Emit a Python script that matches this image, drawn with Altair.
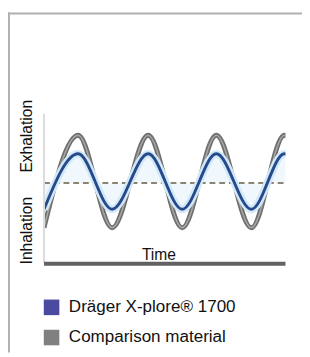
import altair as alt
import pandas as pd

# ---- data ----
time_pts = [0, 35, 70, 107, 142, 177, 213, 247, 282]
comparison_vals = [36, 131, 36, 131, 36, 131, 36, 131, 36]
drager_vals = [55, 112, 55, 112, 55, 112, 55, 112, 55]
neutral_level = 82
series_names = ["Dräger X-plore® 1700", "Comparison material"]
legend_colors = ["#4b49a0", "#808080"]

df = pd.DataFrame({"t": time_pts, "gray": comparison_vals, "blue": drager_vals,
                   "mid": [neutral_level] * len(time_pts)})
leg = pd.DataFrame({"series": series_names})
mid_df = pd.DataFrame({"t0": [0], "t1": [248], "mid": [neutral_level]})

xs = alt.Scale(domain=[0, 248], nice=False, zero=False)
ys = alt.Scale(domain=[0, 153], nice=False, zero=False)
X = alt.X("t:Q", scale=xs, axis=None)

base = alt.Chart(df)

area = base.mark_area(color="#f1f8fd", interpolate="monotone", clip=True).encode(
    x=X, y=alt.Y("blue:Q", scale=ys, axis=None), y2="mid:Q")

gray_outer = base.mark_line(color="#6f6f6f", strokeWidth=5, interpolate="monotone", clip=True).encode(
    x=X, y=alt.Y("gray:Q", scale=ys, axis=None))
gray_inner = base.mark_line(color="#a8a8a8", strokeWidth=1.5, interpolate="monotone", clip=True).encode(
    x=X, y=alt.Y("gray:Q", scale=ys, axis=None))

dash = alt.Chart(mid_df).mark_rule(color="#8a8472", strokeWidth=2, strokeDash=[6, 4]).encode(
    x=alt.X("t0:Q", scale=xs, axis=None), x2="t1:Q", y=alt.Y("mid:Q", scale=ys, axis=None))

blue_halo = base.mark_line(color="#d3e9f8", strokeWidth=8, interpolate="monotone", clip=True).encode(
    x=X, y=alt.Y("blue:Q", scale=ys, axis=None))
blue_line = base.mark_line(color="#264a8c", strokeWidth=3, interpolate="monotone", clip=True).encode(
    x=X, y=alt.Y("blue:Q", scale=ys, axis=None))

left_axis = alt.Chart(mid_df).mark_rule(color="#dcdcdc", strokeWidth=2).encode(
    x=alt.value(0), y=alt.value(0), y2=alt.value(153))
bottom_axis = alt.Chart(mid_df).mark_rule(color="#626262", strokeWidth=4).encode(
    x=alt.value(0), x2=alt.value(248), y=alt.value(154))

txt_style = dict(font="Liberation Sans", fontSize=16, color="#111111")
time_txt = alt.Chart(mid_df).mark_text(text="Time", align="center", baseline="alphabetic", **txt_style).encode(
    x=alt.value(118), y=alt.value(150))
exh_txt = alt.Chart(mid_df).mark_text(text="Exhalation", angle=270, align="center", baseline="alphabetic", **txt_style).encode(
    x=alt.value(-12), y=alt.value(23))
inh_txt = alt.Chart(mid_df).mark_text(text="Inhalation", angle=270, align="center", baseline="alphabetic", **txt_style).encode(
    x=alt.value(-12), y=alt.value(120))

frame_top = alt.Chart(mid_df).mark_rule(color="#b0b0b0", strokeWidth=2).encode(
    x=alt.value(-37), x2=alt.value(265), y=alt.value(-103))
frame_left = alt.Chart(mid_df).mark_rule(color="#b0b0b0", strokeWidth=2).encode(
    x=alt.value(-36), y=alt.value(-104), y2=alt.value(245))

legend_layer = alt.Chart(leg).mark_square(opacity=0).encode(
    color=alt.Color("series:N",
                    scale=alt.Scale(domain=series_names, range=legend_colors),
                    legend=alt.Legend(title=None, orient="none", legendX=-1, legendY=190,
                                      symbolType="square", symbolSize=256, symbolOpacity=1,
                                      symbolStrokeWidth=0, labelFontSize=17.5,
                                      labelFont="Liberation Sans", labelColor="#111111",
                                      labelOffset=9, labelLimit=0, rowPadding=12, padding=0)))

chart = alt.layer(frame_top, frame_left, area, gray_outer, gray_inner, dash, blue_halo, blue_line,
                  left_axis, bottom_axis, time_txt, exh_txt, inh_txt, legend_layer).properties(
    width=248, height=153,
    padding={"left": 37, "top": 104, "right": 17, "bottom": 92},
    autosize=alt.AutoSizeParams(type="none"),
).configure_view(stroke=None)

chart.save("out.html", embed_options={"renderer": "svg", "actions": False})
